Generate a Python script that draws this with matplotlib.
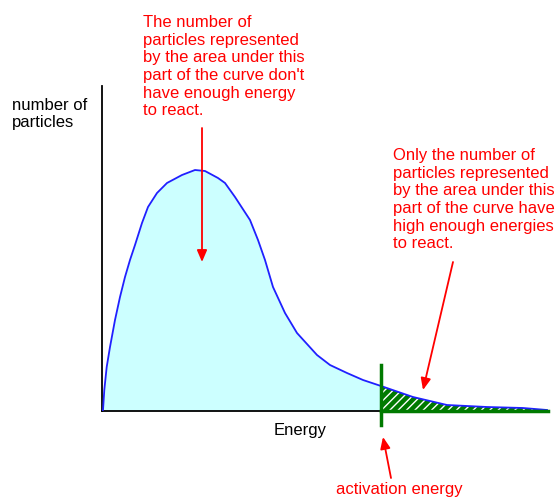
import matplotlib.pyplot as plt
import numpy as np

plt.rcParams['font.family'] = ['Liberation Sans', 'DejaVu Sans']
plt.rcParams['hatch.color'] = 'white'
plt.rcParams['hatch.linewidth'] = 1.0

# ---------------- 曲线数据 ----------------
energy = [0, 1, 2.3, 4.7, 8, 13, 18, 23, 28, 33, 40, 46, 55, 65, 80, 93, 103,
          116, 123, 133, 148, 156, 163, 171, 183, 195, 215, 228, 245, 261, 279,
          311, 345, 385, 421, 445]
count = [0, 1, 21, 44, 64, 91, 114, 134, 151, 166, 188, 204, 218, 228, 236, 241,
         240, 233, 228, 214, 191, 171, 151, 124, 98, 78, 56, 46, 38, 31, 25,
         14, 6, 4, 3, 1]
e_act = 279

text_left = ("The number of\nparticles represented\nby the area under this\n"
             "part of the curve don't\nhave enough energy\nto react.")
text_right = ("Only the number of\nparticles represented\nby the area under this\n"
              "part of the curve have\nhigh enough energies\nto react.")

W, H = 557, 498
fig = plt.figure(figsize=(W / 100, H / 100), dpi=100)
# 坐标轴区域 (像素): x 102->548, y 86->411
ax = fig.add_axes([102 / W, (H - 411) / H, 446 / W, 325 / H])
ax.set_xlim(0, 446)
ax.set_ylim(0, 325)
ax.set_xticks([])
ax.set_yticks([])
for s in ['top', 'right']:
    ax.spines[s].set_visible(False)
ax.spines['left'].set_linewidth(1.3)
ax.spines['bottom'].set_linewidth(1.3)

x = np.array(energy, dtype=float)
y = np.array(count, dtype=float)

# 低能部分 - 浅青色
ax.fill_between(x, 0, y, where=x <= e_act, color='#ccffff', lw=0, zorder=1)
# 高能部分 - 绿色阴影
ax.fill_between(x, 0, y, where=x >= e_act, facecolor='#007a00',
                edgecolor='white', hatch='////', lw=0, zorder=2)
ax.plot(x, y, color='#2020ff', lw=1.3, zorder=3)

# 绿色活化能线
ax.plot([e_act, 446], [0, 0], color='#007a00', lw=2.5, zorder=4, clip_on=False)
ax.plot([e_act, e_act], [-14, 46], color='#007a00', lw=2.5, zorder=4, clip_on=False)

red = '#ff0000'
aprops = dict(arrowstyle='-|>,head_length=0.7,head_width=0.3', color=red, lw=1.3,
              shrinkA=0, shrinkB=0)
ax.annotate('', xy=(100, 149), xytext=(100, 283), arrowprops=aprops,
            annotation_clip=False)
ax.annotate('', xy=(321, 21), xytext=(351, 149), arrowprops=aprops,
            annotation_clip=False)
ax.annotate('', xy=(281, -26), xytext=(289, -67), arrowprops=aprops,
            annotation_clip=False)

fs = 12.0
ls = 1.22
fig.text(143 / W, 1 - 15 / H, text_left, color=red, fontsize=fs, va='top',
         ha='left', linespacing=ls)
fig.text(393 / W, 1 - 148 / H, text_right, color=red, fontsize=fs, va='top',
         ha='left', linespacing=ls)
fig.text(12 / W, 1 - 98 / H, "number of\nparticles", color='black', fontsize=fs,
         va='top', ha='left', linespacing=1.15)
fig.text(300 / W, 1 - 430 / H, "Energy", color='black', fontsize=fs,
         va='center', ha='center')
fig.text(399 / W, 1 - 489 / H, "activation energy", color=red, fontsize=fs,
         va='center', ha='center')

fig.savefig('out.png', dpi=100)
